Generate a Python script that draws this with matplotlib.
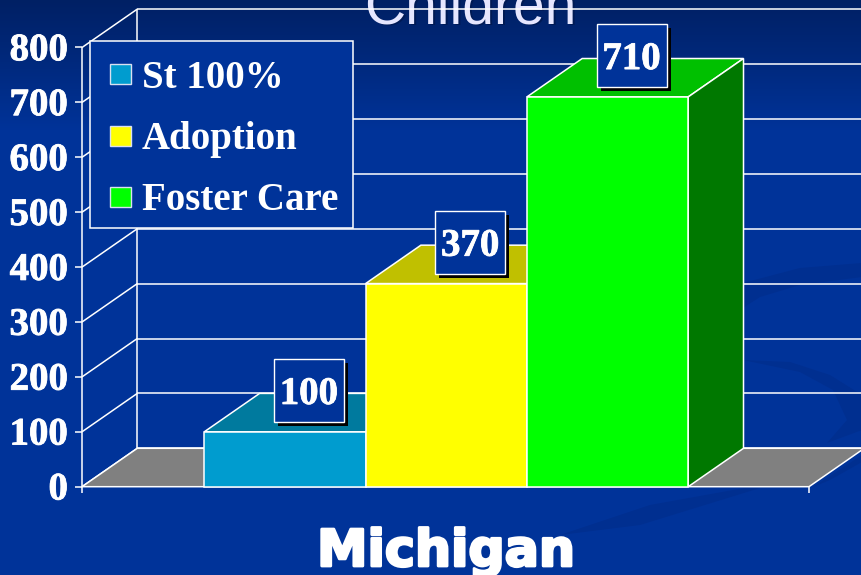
import numpy as np
import matplotlib
matplotlib.use("Agg")
import matplotlib.pyplot as plt
import matplotlib.patheffects as pe
from matplotlib.patches import Polygon, Rectangle

# Data
categories = ["St 100%", "Adoption", "Foster Care"]
values = [100, 370, 710]
y_ticks = [0, 100, 200, 300, 400, 500, 600, 700, 800]
front_colors = ["#009CCF", "#FFFF00", "#00FF00"]
top_colors = ["#007A9E", "#C0C000", "#00C000"]
side_colors = ["#007A9E", "#C0C000", "#007800"]

BLUE = "#003399"
W, H = 862, 575
Y0 = 486.7        # pixel row of value 0
PX_PER_VAL = 0.549
X0 = 204.3        # pixel column of first bar
BAR_W = 161.3
DX, DY = 55.3, 38.4   # 3d depth in pixels


def px(x, y):
    # pixel position -> data position
    return (x - X0) / BAR_W, (Y0 - y) / PX_PER_VAL


dx = DX / BAR_W
dy = DY / PX_PER_VAL
xmin, ymax = px(0, 0)
xmax, ymin = px(W, H)
bold = [pe.withStroke(linewidth=0.6, foreground="white")]

fig = plt.figure(figsize=(8.62, 5.75), dpi=100)
ax = fig.add_axes([0, 0, 1, 1])
ax.set_xlim(xmin, xmax)
ax.set_ylim(ymin, ymax)
ax.axis("off")

# background gradient
grad = np.ones((H, 1, 3))
top = np.array([0, 32, 100]) / 255
bot = np.array([0, 51, 153]) / 255
t = np.clip(np.arange(H) / 130, 0, 1)[:, None]
grad[:, 0, :] = top * (1 - t) + bot * t
ax.imshow(grad, extent=[xmin, xmax, ymin, ymax], aspect="auto", zorder=0)

# faint swooshes
for pts in [[(560, 535), (650, 505), (750, 487), (690, 487), (760, 488), (640, 525)],
            [(813, 487), (862, 455), (862, 462), (830, 480)],
            [(743, 360), (800, 372), (833, 390), (847, 420), (827, 443), (862, 430), (862, 395), (830, 375), (790, 362)],
            [(743, 283), (800, 268), (862, 263), (862, 277), (800, 285), (760, 297), (743, 308)]]:
    ax.add_patch(Polygon([px(*p) for p in pts], closed=True, fc="#002F90", ec="none", zorder=1))

line = dict(color="white", lw=1.1, zorder=3, solid_capstyle="butt")
x_left = px(82, 0)[0]
x_right = px(809, 0)[0]

# back wall and gridlines
for v in y_ticks:
    ax.plot([x_left + dx, xmax + 0.1], [v + dy, v + dy], **line)
    ax.plot([x_left, x_left + dx], [v, v + dy], **line)
    ax.plot([x_left - 7 / BAR_W, x_left], [v, v], **line)
    ax.text(px(68, 0)[0], v - 6, str(v), ha="right", va="center", color="white", fontsize=28,
            fontweight="bold", family="Liberation Serif", zorder=6, path_effects=bold)
ax.plot([x_left, x_left], [-12, y_ticks[-1]], **line)
ax.plot([x_left + dx, x_left + dx], [dy, y_ticks[-1] + dy], **line)
ax.plot([x_right, x_right], [-12, 0], **line)

# floor
ax.add_patch(Polygon([(x_left, 0), (x_right, 0), (x_right + dx, dy), (x_left + dx, dy)], closed=True,
                     fc="#808080", ec="white", lw=1.1, zorder=3.5))

# bars
for i, v in enumerate(values):
    ax.add_patch(Polygon([(i, v), (i + 1, v), (i + 1 + dx, v + dy), (i + dx, v + dy)], closed=True,
                         fc=top_colors[i], ec="white", lw=1.1, zorder=4 + i * 0.1))
    ax.add_patch(Polygon([(i + 1, 0), (i + 1 + dx, dy), (i + 1 + dx, v + dy), (i + 1, v)], closed=True,
                         fc=side_colors[i], ec="white", lw=1.1, zorder=4 + i * 0.1))
    ax.add_patch(Rectangle((i, 0), 1, v, fc=front_colors[i], ec="white", lw=1.1, zorder=4.05 + i * 0.1))

# value labels
box_w = 70 / BAR_W
box_h = 63.5 / PX_PER_VAL
for i, v in enumerate(values):
    cx = i + 0.5 + 24 / BAR_W
    cy = v + 41.2 / PX_PER_VAL
    ax.add_patch(Rectangle((cx - box_w / 2 + 4 / BAR_W, cy - box_h / 2 - 4 / PX_PER_VAL), box_w, box_h,
                           fc="black", ec="none", zorder=5))
    ax.add_patch(Rectangle((cx - box_w / 2, cy - box_h / 2), box_w, box_h, fc=BLUE, ec="white", lw=1,
                           zorder=5.1))
    ax.text(cx, cy - 7, str(v), ha="center", va="center", color="white", fontsize=28, fontweight="bold",
            family="Liberation Serif", zorder=5.2, path_effects=bold)

# legend
lx0, ly1 = px(90.5, 41)
lx1, ly0 = px(353, 228)
ax.add_patch(Rectangle((lx0, ly0), lx1 - lx0, ly1 - ly0, fc=BLUE, ec="white", lw=1.1, zorder=5))
for name, col, row in zip(categories, front_colors, [74.5, 136, 197]):
    sx, sy = px(110, row + 10)
    ax.add_patch(Rectangle((sx, sy), 21 / BAR_W, 20 / PX_PER_VAL, fc=col, ec="#D8E0F0", lw=1, zorder=5.2))
    tx, ty = px(142, row - 1)
    ax.text(tx, ty, name, ha="left", va="center_baseline", color="white", fontsize=28, fontweight="bold",
            family="Liberation Serif", zorder=5.2)

# title, cut off by the top edge
for off, col in [(2, "#001A55"), (0, "#E6E6FF")]:
    tx, ty = px(364 + off, 23 + off)
    ax.text(tx, ty, "Children", ha="left", va="baseline", color=col, fontsize=41,
            family="Liberation Sans", zorder=2.8 - off * 0.1, clip_on=True)

# category label
tx, ty = px(446, 566)
ax.text(tx, ty, "Michigan", ha="center", va="baseline", color="white", fontsize=36.5, fontweight="bold",
        family="DejaVu Sans", zorder=6, path_effects=[pe.withStroke(linewidth=2, foreground="white")])

fig.savefig("out.png", dpi=100)
